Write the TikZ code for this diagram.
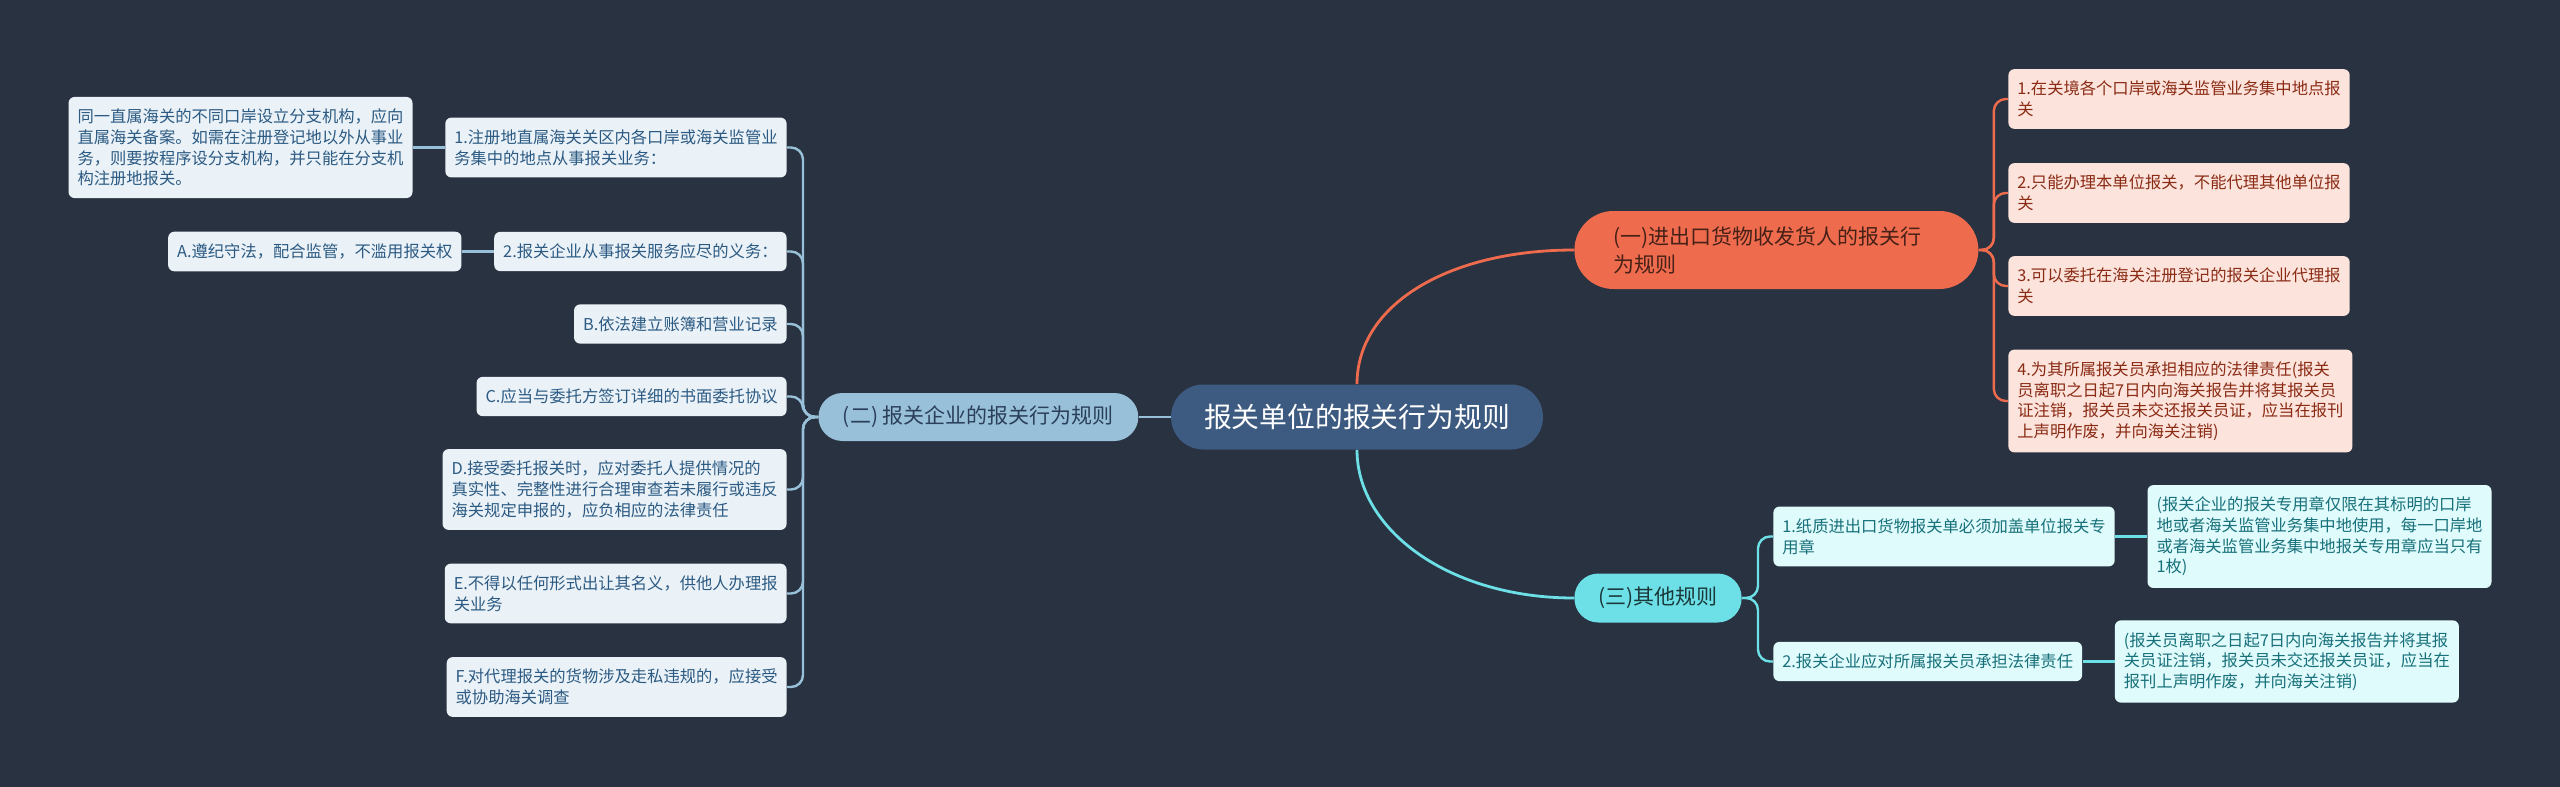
\documentclass[tikz,border=0pt]{standalone}
\usepackage{fontspec}
\setmainfont{Noto Sans CJK SC}
\usetikzlibrary{positioning}
\definecolor{bgdark}{HTML}{293241}
\definecolor{rootblue}{HTML}{3D5A80}
\definecolor{skyblue}{HTML}{98C1D9}
\definecolor{coral}{HTML}{EE6C4D}
\definecolor{aqua}{HTML}{6CE0E6}
\definecolor{paleblue}{HTML}{EAF2F8}
\definecolor{palecoral}{HTML}{FCE3DC}
\definecolor{paleaqua}{HTML}{E0FBFC}
\definecolor{inkblue}{HTML}{2C5A82}
\definecolor{inkcoral}{HTML}{8A2B14}
\definecolor{inkaqua}{HTML}{17707A}

\begin{document}
\begin{tikzpicture}[x=0.5pt,y=-0.5pt,node distance=16pt]
  \tikzstyle{leaf}=[rounded corners=3pt,inner xsep=4.5pt,inner ysep=6pt,align=left,font=\fontsize{8.15pt}{10.3pt}\selectfont]
  \tikzstyle{leafL}=[leaf,fill=paleblue,text=inkblue]
  \tikzstyle{leafO}=[leaf,fill=palecoral,text=inkcoral]
  \tikzstyle{leafC}=[leaf,fill=paleaqua,text=inkaqua]
  \tikzstyle{topic}=[align=left,inner ysep=0pt,font=\fontsize{10.5pt}{14pt}\selectfont]
  \tikzstyle{lineL}=[skyblue,line width=1.2pt,rounded corners=6pt]
  \tikzstyle{lineO}=[coral,line width=1.2pt,rounded corners=6pt]
  \tikzstyle{lineC}=[aqua,line width=1.2pt,rounded corners=6pt]
  \fill[bgdark] (0,0) rectangle (2560,787);
  \useasboundingbox (0,0) rectangle (2560,787);

  \node[fill=rootblue,text=white,rounded corners=16pt,minimum height=32.5pt,inner xsep=16.5pt,font=\fontsize{13.9pt}{17pt}\selectfont] (root) at (1357,417) {报关单位的报关行为规则};

  \node[topic,fill=skyblue,text=rootblue!70!black,rounded corners=12pt,minimum height=24pt,inner xsep=12.25pt,left=16pt of root] (lb) {(二) 报关企业的报关行为规则};
  \node[topic,fill=coral,text=coral!30!black,rounded corners=19.5pt,minimum height=39pt,inner xsep=19.5pt,text width=163pt,anchor=west] (ob) at (1574,250) {(一)进出口货物收发货人的报关行\\为规则};
  \node[topic,fill=aqua,text=aqua!25!black,rounded corners=12pt,minimum height=24.5pt,inner xsep=12pt,anchor=west] (cb) at (1574,598) {(三)其他规则};

  \node[leafL,anchor=east] (l1) at (787,147.5) {1.注册地直属海关关区内各口岸或海关监管业\\务集中的地点从事报关业务：};
  \node[leafL,left=of l1] (l1x) {同一直属海关的不同口岸设立分支机构，应向\\直属海关备案。如需在注册登记地以外从事业\\务，则要按程序设分支机构，并只能在分支机\\构注册地报关。};
  \node[leafL,anchor=east] (l2) at (787,251.5) {2.报关企业从事报关服务应尽的义务：};
  \node[leafL,left=of l2] (la) {A.遵纪守法，配合监管，不滥用报关权};
  \node[leafL,anchor=east] (lbb) at (787,324) {B.依法建立账簿和营业记录};
  \node[leafL,anchor=east] (lc) at (787,396.5) {C.应当与委托方签订详细的书面委托协议};
  \node[leafL,anchor=east] (ld) at (787,489.5) {D.接受委托报关时，应对委托人提供情况的\\真实性、完整性进行合理审查若未履行或违反\\海关规定申报的，应负相应的法律责任};
  \node[leafL,anchor=east] (le) at (787,593.5) {E.不得以任何形式出让其名义，供他人办理报\\关业务};
  \node[leafL,anchor=east] (lf) at (787,687) {F.对代理报关的货物涉及走私违规的，应接受\\或协助海关调查};

  \node[leafO,anchor=west] (o1) at (2008,99) {1.在关境各个口岸或海关监管业务集中地点报\\关};
  \node[leafO,anchor=west] (o2) at (2008,193) {2.只能办理本单位报关，不能代理其他单位报\\关};
  \node[leafO,anchor=west] (o3) at (2008,286) {3.可以委托在海关注册登记的报关企业代理报\\关};
  \node[leafO,anchor=west] (o4) at (2008,401) {4.为其所属报关员承担相应的法律责任(报关\\员离职之日起7日内向海关报告并将其报关员\\证注销，报关员未交还报关员证，应当在报刊\\上声明作废，并向海关注销)};

  \node[leafC,anchor=west] (c1) at (1773,536.5) {1.纸质进出口货物报关单必须加盖单位报关专\\用章};
  \node[leafC,right=of c1] (c1x) {(报关企业的报关专用章仅限在其标明的口岸\\地或者海关监管业务集中地使用，每一口岸地\\或者海关监管业务集中地报关专用章应当只有\\1枚)};
  \node[leafC,anchor=west] (c2) at (1773,661.5) {2.报关企业应对所属报关员承担法律责任};
  \node[leafC,right=of c2] (c2x) {(报关员离职之日起7日内向海关报告并将其报\\关员证注销，报关员未交还报关员证，应当在\\报刊上声明作废，并向海关注销)};

  \draw[skyblue,line width=1.4pt] (root) -- (lb);
  \draw[coral,line width=1.4pt] (root.north) .. controls +(0,-80) and +(-125,0) .. (ob.west);
  \draw[aqua,line width=1.4pt] (root.south) .. controls +(0,80) and +(-125,0) .. (cb.west);

  \foreach \n in {l1,l2,lbb,lc,ld,le,lf}
    \draw[lineL] (lb.west) -- ++(-15,0) |- (\n.east);
  \draw[lineL] (l1) -- (l1x);
  \draw[lineL] (l2) -- (la);
  \foreach \n in {o1,o2,o3,o4}
    \draw[lineO] (ob.east) -- ++(15,0) |- (\n.west);
  \foreach \n in {c1,c2}
    \draw[lineC] (cb.east) -- ++(16,0) |- (\n.west);
  \draw[lineC] (c1) -- (c1x);
  \draw[lineC] (c2) -- (c2x);
\end{tikzpicture}
\end{document}
